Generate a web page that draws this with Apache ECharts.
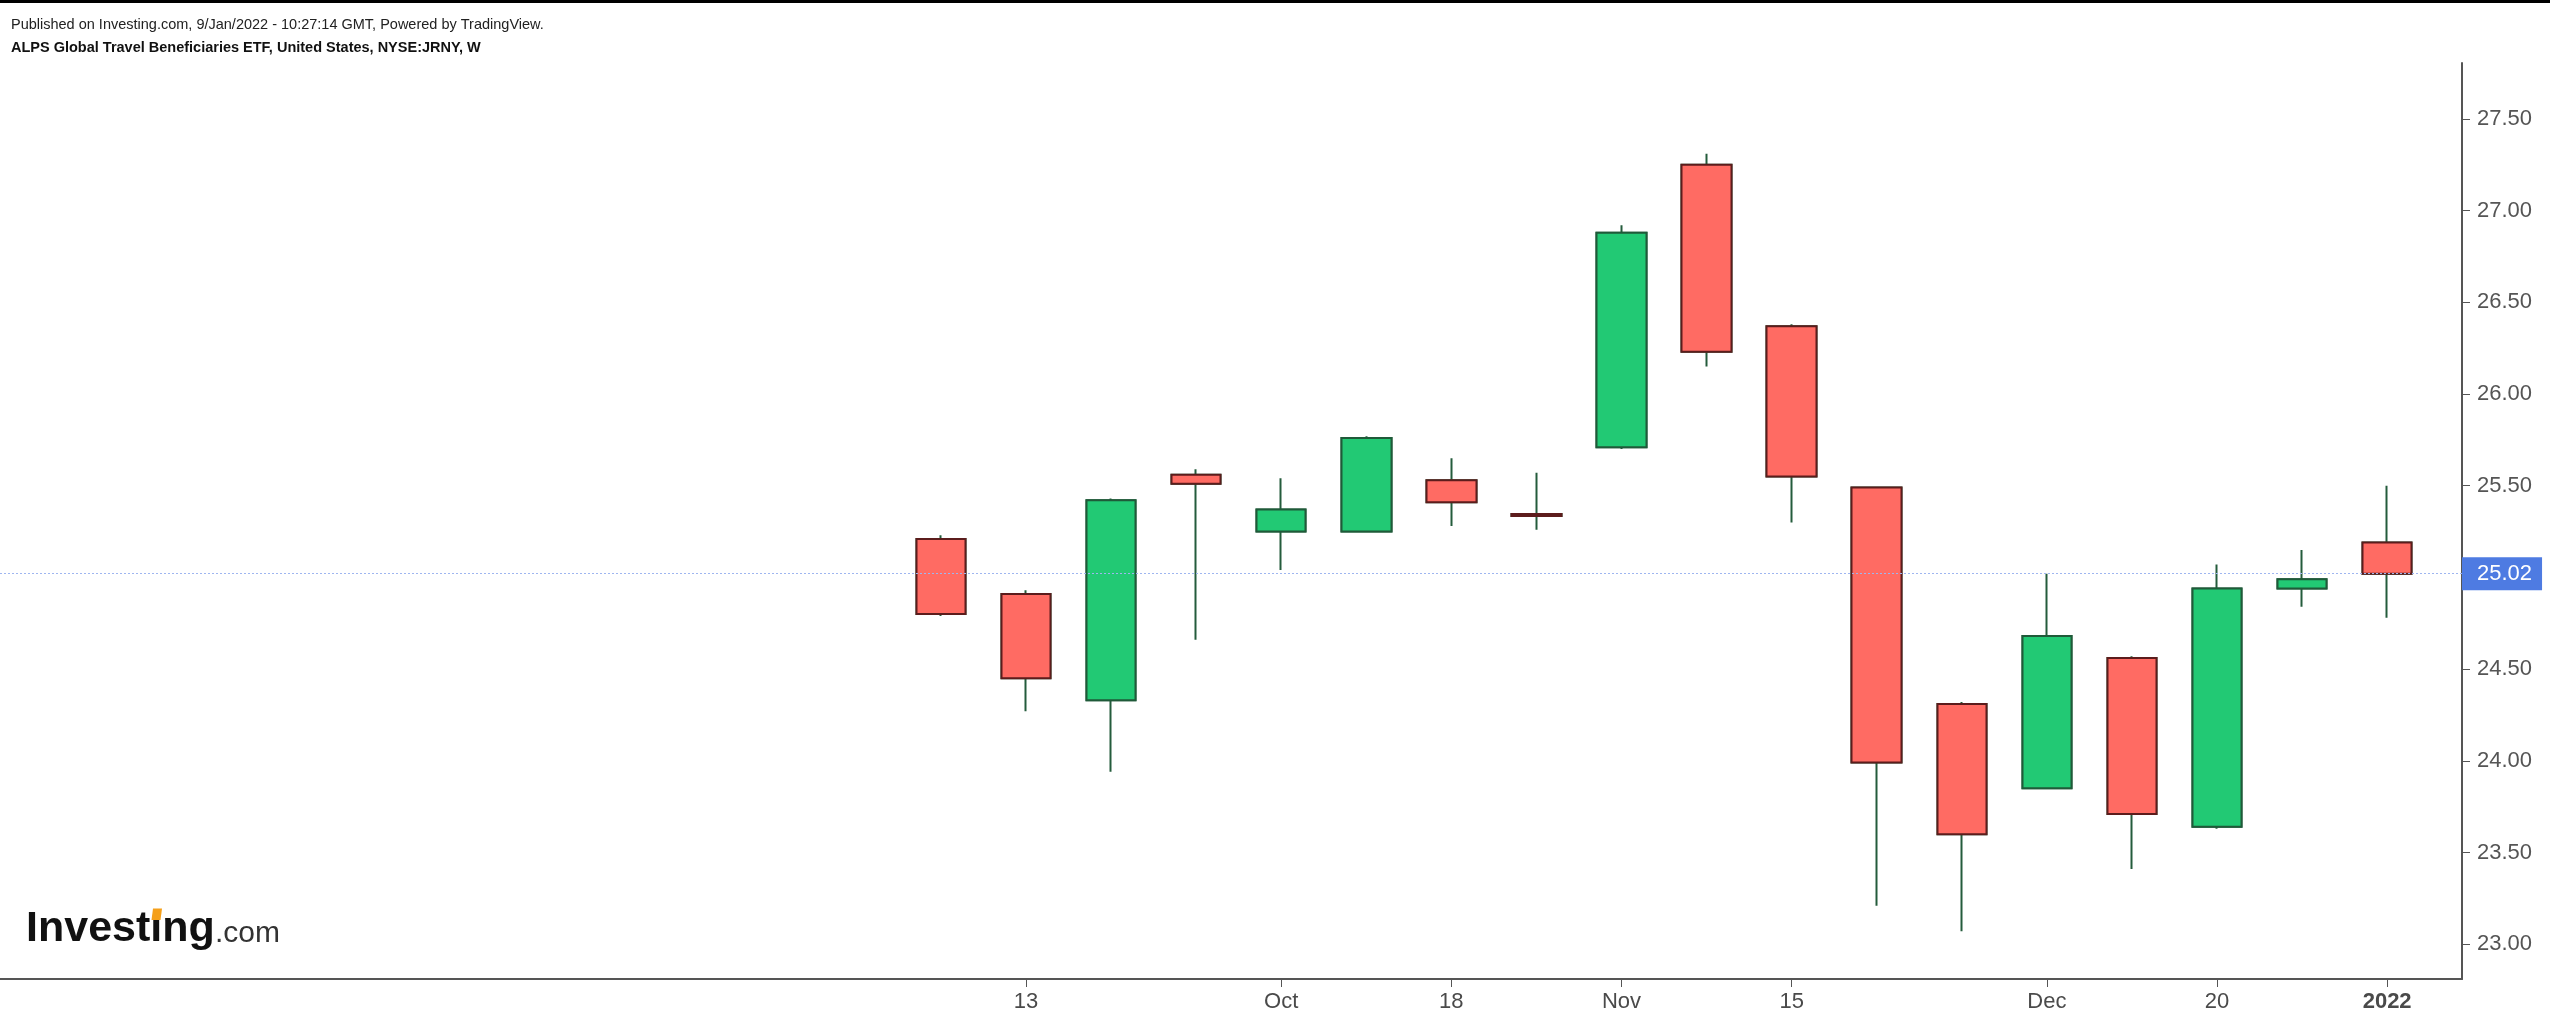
<!DOCTYPE html>
<html>
<head>
<meta charset="utf-8">
<script src="https://cdn.jsdelivr.net/npm/echarts@6/dist/echarts.min.js"></script>
<style>
html,body{margin:0;padding:0;background:#fff;}
#chart{width:2550px;height:1022px;}
</style>
</head>
<body>
<div id="chart"></div>
<script>
// Weekly candles (week starting), NYSE:JRNY
const weeks = ['Sep 6','Sep 13','Sep 20','Sep 27','Oct 4','Oct 11','Oct 18','Oct 25','Nov 1','Nov 8','Nov 15','Nov 22','Nov 29','Dec 6','Dec 13','Dec 20','Dec 27','Jan 3'];
const openV  = [25.21, 24.91, 24.33, 25.56, 25.25, 25.25, 25.53, 25.345, 25.71, 27.25, 26.37, 25.49, 24.31, 23.85, 24.56, 23.64, 24.94, 25.19];
const closeV = [24.80, 24.45, 25.42, 25.51, 25.37, 25.76, 25.41, 25.335, 26.88, 26.23, 25.55, 23.99, 23.60, 24.68, 23.71, 24.94, 24.99, 25.02];
const lowV   = [24.79, 24.27, 23.94, 24.66, 25.04, 25.25, 25.28, 25.26, 25.70, 26.15, 25.30, 23.21, 23.07, 23.85, 23.41, 23.63, 24.84, 24.78];
const highV  = [25.23, 24.93, 25.43, 25.59, 25.54, 25.77, 25.65, 25.57, 26.92, 27.31, 26.38, 25.49, 24.32, 25.02, 24.57, 25.07, 25.15, 25.50];
const lastPrice = 25.02;
// x-axis tick labels (index of the week they sit under)
const xTickIdx = [1, 4, 6, 8, 10, 13, 15, 17];
const xTickLabels = ['13', 'Oct', '18', 'Nov', '15', 'Dec', '20', '2022'];
const yTicks = [23, 23.5, 24, 24.5, 25, 25.5, 26, 26.5, 27, 27.5];
const yLabelTicks = [23, 23.5, 24, 24.5, 25.5, 26, 26.5, 27, 27.5];

const wickData = weeks.map((w, i) => [i, openV[i], closeV[i], lowV[i], highV[i]]);
const bodyData = weeks.map((w, i) => [i, openV[i], closeV[i], Math.min(openV[i], closeV[i]), Math.max(openV[i], closeV[i])]);

const FONT = '"Liberation Sans", Arial, sans-serif';
const chart = echarts.init(document.getElementById('chart'), null, {renderer: 'canvas'});
chart.setOption({
  animation: false,
  backgroundColor: '#ffffff',
  grid: {left: 0, right: 88, top: 63, bottom: 43, containLabel: false},
  xAxis: {
    type: 'value',
    min: -11.06,
    max: 17.88,
    splitLine: {show: false},
    axisLine: {show: true, onZero: false, lineStyle: {color: '#555', width: 2}},
    axisTick: {show: true, customValues: xTickIdx, length: 8, lineStyle: {color: '#555', width: 1}},
    axisLabel: {
      show: true, customValues: xTickIdx, margin: 12,
      fontFamily: FONT, fontSize: 22, color: '#4a4a4a',
      formatter: function (v) {
        const k = xTickIdx.indexOf(Math.round(v));
        if (k < 0) return '';
        const t = xTickLabels[k];
        return t === '2022' ? '{b|' + t + '}' : t;
      },
      rich: {b: {fontWeight: 'bold', fontFamily: FONT, fontSize: 22, color: '#4a4a4a'}}
    }
  },
  yAxis: {
    type: 'value',
    position: 'right',
    min: 22.81,
    max: 27.805,
    scale: true,
    splitLine: {show: false},
    axisLine: {show: true, onZero: false, lineStyle: {color: '#555', width: 2}},
    axisTick: {show: true, customValues: yTicks, length: 8, lineStyle: {color: '#555', width: 1}},
    axisLabel: {
      show: true, customValues: yLabelTicks, margin: 15,
      fontFamily: FONT, fontSize: 22, color: '#555',
      formatter: v => v.toFixed(2)
    }
  },
  title: [
    {text: 'Published on Investing.com, 9/Jan/2022 - 10:27:14 GMT, Powered by TradingView.', left: 6, top: 12,
     textStyle: {fontFamily: FONT, fontSize: 14.5, fontWeight: 'normal', color: '#222'}},
    {text: 'ALPS Global Travel Beneficiaries ETF, United States, NYSE:JRNY, W', left: 6, top: 35,
     textStyle: {fontFamily: FONT, fontSize: 14.5, fontWeight: 'bold', color: '#111'}}
  ],
  graphic: [
    {type: 'rect', left: 0, top: 0, shape: {width: 2550, height: 3}, style: {fill: '#000'}},
    {type: 'text', x: 26, y: 908, style: {text: 'Investing', font: 'bold 43px ' + FONT, fill: '#111', verticalAlign: 'top'}},
    {type: 'polygon', shape: {points: [[153, 908.5], [162, 908.5], [160.5, 920], [151.5, 920]]}, style: {fill: '#f5a01a'}},
    {type: 'text', x: 215, y: 919, style: {text: '.com', font: '30px ' + FONT, fill: '#333', verticalAlign: 'top'}}
  ],
  series: [
    {
      type: 'candlestick',
      name: 'wick',
      data: wickData,
      barWidth: 50,
      silent: true,
      z: 2,
      itemStyle: {color: 'rgba(0,0,0,0)', color0: 'rgba(0,0,0,0)', borderColor: '#245c3c', borderColor0: '#245c3c', borderWidth: 2}
    },
    {
      type: 'candlestick',
      name: 'body',
      data: bodyData,
      barWidth: 50,
      silent: true,
      z: 3,
      itemStyle: {color: '#22c974', color0: '#ff6b63', borderColor: '#1f5a39', borderColor0: '#5c1c1c', borderWidth: 2},
      markLine: {
        silent: true,
        symbol: ['none', 'none'],
        data: [{yAxis: lastPrice}],
        lineStyle: {color: '#9fb6f0', type: [2, 2], width: 1},
        label: {
          show: true, position: 'end', distance: 0,
          formatter: lastPrice.toFixed(2),
          fontFamily: FONT, fontSize: 22, color: '#fff', lineHeight: 22,
          backgroundColor: '#4e7be2', padding: [6, 10, 5, 15]
        }
      }
    }
  ]
});
</script>
</body>
</html>
